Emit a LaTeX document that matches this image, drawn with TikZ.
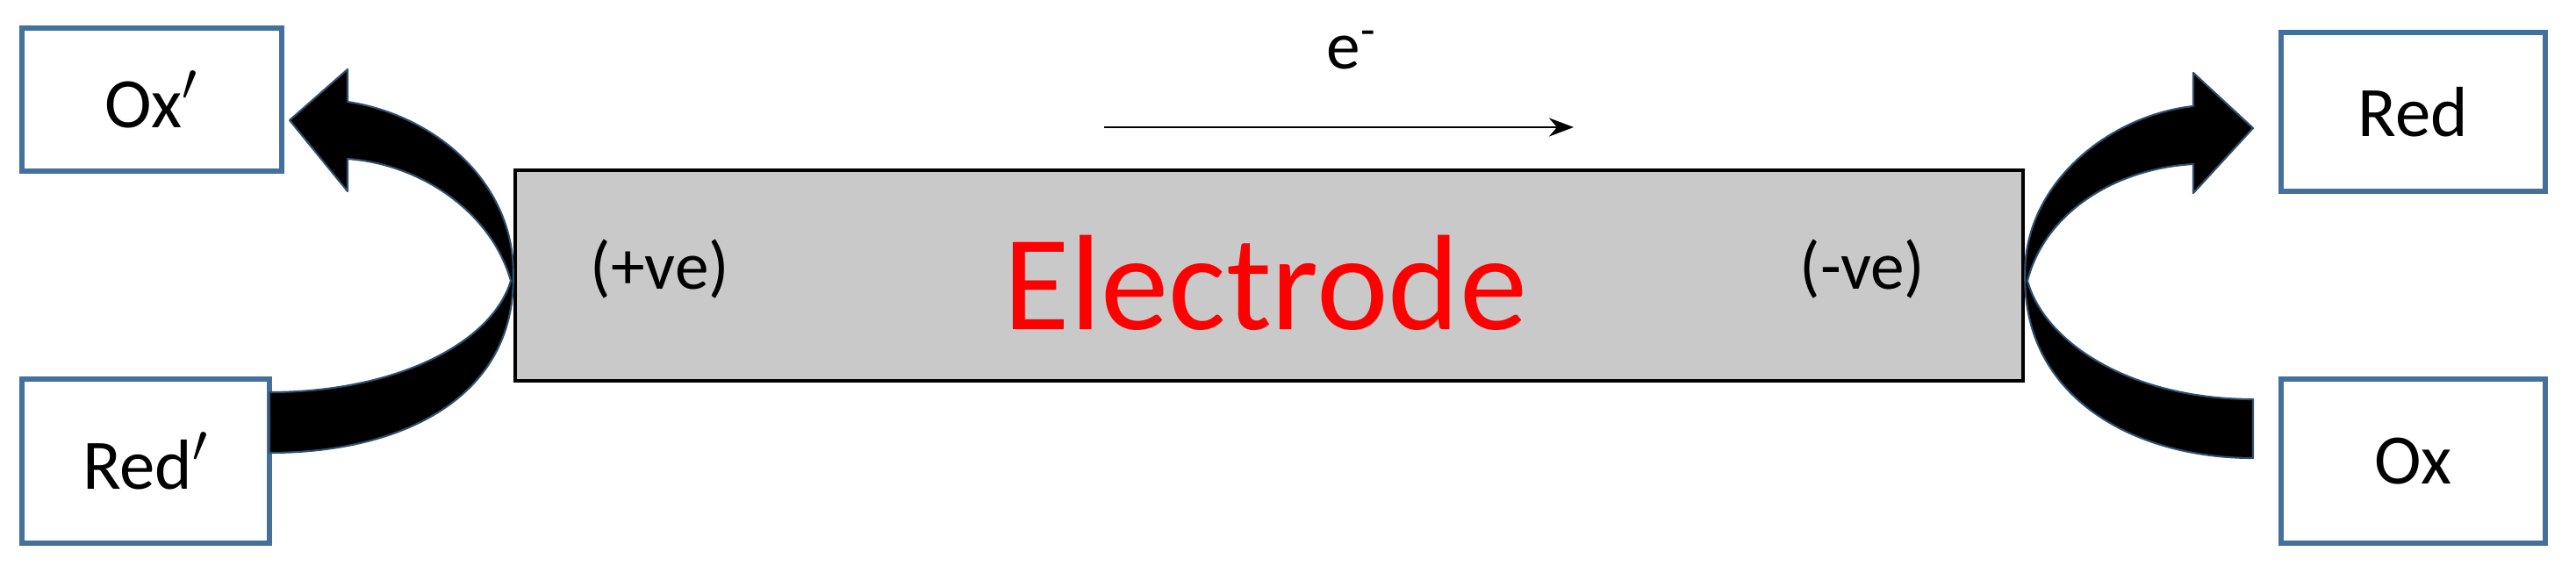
\documentclass[tikz,border=0pt]{standalone}
\usepackage{fontspec}
\setmainfont{Carlito}
\usetikzlibrary{arrows.meta}
\definecolor{boxblue}{HTML}{41719C}
\tikzset{
  chem/.style={draw=boxblue,line width=1.6pt,fill=white,font=\fontsize{23}{26}\selectfont,inner sep=0pt},
  bigarrow/.style={fill=black,draw=boxblue!70!black,line width=0.6pt,line join=round}
}
\begin{document}
\begin{tikzpicture}
\useasboundingbox (0,0) rectangle (29.35,6.52);
\node[draw=black,line width=1.3pt,fill=black!21,minimum width=17.18cm,minimum height=2.40cm,inner sep=0pt] (el) at (14.46,3.38) {};
\node[text=red,font=\fontsize{44}{50}\selectfont] (lab) at (14.42,3.30) {Electrode};
\node[font=\fontsize{22}{26}\selectfont] (pos) at (7.52,3.45) {(+ve)};
\node[font=\fontsize{22}{26}\selectfont] (neg) at (21.22,3.45) {(-ve)};
\node[chem,minimum width=2.96cm,minimum height=1.63cm] (oxp) at (1.73,5.385) {Ox$^{\prime}$};
\node[chem,minimum width=2.82cm,minimum height=1.87cm] (redp) at (1.66,1.265) {Red$^{\prime}$};
\node[chem,minimum width=3.01cm,minimum height=1.81cm] (red) at (27.495,5.245) {Red};
\node[chem,minimum width=3.01cm,minimum height=1.87cm] (ox) at (27.495,1.265) {Ox};
\coordinate (a1) at (12.58,5.07);
\coordinate (a2) at (17.93,5.07);
\draw[-{Stealth[length=8pt,width=6pt]},line width=0.8pt] (a1) -- (a2);
\node[font=\fontsize{22}{26}\selectfont] (e) at (15.40,5.95) {e\textsuperscript{-}};
% left curved arrow
\path[bigarrow] (3.30,5.15) -- (3.96,5.73) -- (3.96,5.36)
  .. controls (5.0,5.2) and (5.87,4.4) .. (el.west)
  .. controls (5.87,2.0) and (4.6,1.36) .. (3.07,1.36)
  -- (3.07,2.05)
  .. controls (4.5,2.05) and (5.6,2.6) .. (5.82,3.32)
  .. controls (5.6,4.1) and (4.8,4.65) .. (3.96,4.71)
  -- (3.96,4.34) -- cycle;
% right curved arrow
\path[bigarrow] (25.67,5.06) -- (24.99,5.69) -- (24.99,5.31)
  .. controls (24.0,5.2) and (23.05,4.4) .. (el.east)
  .. controls (23.05,2.0) and (24.3,1.30) .. (25.67,1.30)
  -- (25.67,1.97)
  .. controls (24.3,1.97) and (23.3,2.6) .. (23.10,3.32)
  .. controls (23.3,4.1) and (24.1,4.60) .. (24.99,4.65)
  -- (24.99,4.32) -- cycle;
\end{tikzpicture}
\end{document}
